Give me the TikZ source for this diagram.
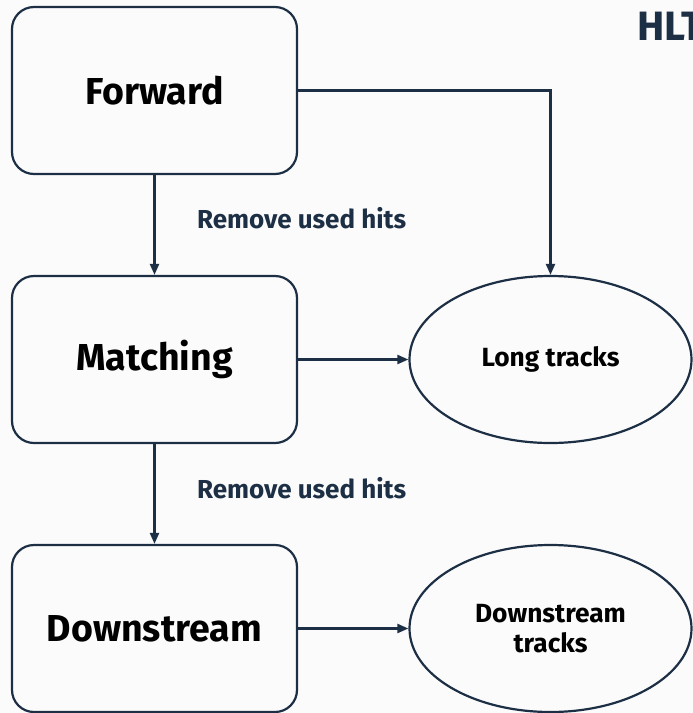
\documentclass[tikz,border=0pt]{standalone}
\usepackage{fontspec}
\setmainfont{Fira Sans}
\usetikzlibrary{arrows.meta,shapes.geometric}
\definecolor{ink}{HTML}{1D2F45}
\definecolor{paper}{HTML}{FBFBFB}
\tikzset{
  stage/.style={draw=ink, line width=2.2pt, fill=paper, rounded corners=22pt,
    minimum width=285pt, minimum height=167pt, inner sep=0pt,
    font=\fontsize{37.5}{45}\selectfont\bfseries, text=black},
  result/.style={ellipse, draw=ink, line width=2.2pt, fill=paper,
    minimum width=282pt, minimum height=167pt, inner sep=0pt,
    font=\fontsize{26.3}{29.5}\selectfont\bfseries, text=black, align=center},
  arr/.style={draw=ink, line width=2.2pt, -{Triangle[length=11pt,width=9pt]}},
  note/.style={font=\fontsize{26}{30}\selectfont\bfseries, text=ink, inner sep=0pt}
}
\begin{document}
\begin{tikzpicture}[x=1pt,y=-1pt]
  \fill[paper] (0,0) rectangle (693,713);
  \useasboundingbox (0,0) rectangle (693,713);

  % reconstruction stages
  \node[stage] (fwd) at (154.5,90.5) {Forward};
  \node[stage] (match) at (154.5,359.5) {Matching};
  \node[stage] (down) at (154.5,628.5) {Downstream};

  % output track collections
  \node[result] (long) at (550.5,359.5) {Long tracks};
  \node[result] (dtrk) at (550.5,628.5) {Downstream\\tracks};

  \node[font=\fontsize{41}{48}\selectfont\bfseries, text=ink, anchor=base west, inner sep=0pt]
    (title) at (637,40) {HLT};

  \draw[arr] (fwd.south) -- (match.north);
  \draw[arr] (match.south) -- (down.north);
  \draw[arr] (fwd.east) -| (long.north);
  \draw[arr] (match.east) -- (long.west);
  \draw[arr] (down.east) -- (dtrk.west);

  \node[note, anchor=base west] (n1) at (197,228) {Remove used hits};
  \node[note, anchor=base west] (n2) at (197,498) {Remove used hits};
\end{tikzpicture}
\end{document}
